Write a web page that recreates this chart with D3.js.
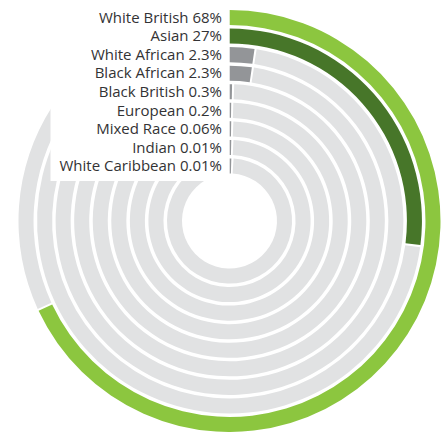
<!DOCTYPE html>
<html><head><meta charset="utf-8">
<script src="https://cdn.jsdelivr.net/npm/d3@7"></script>
<style>html,body{margin:0;padding:0;background:#fff;overflow:hidden}</style>
</head><body>
<svg id="chart" width="446" height="432"></svg>
<script>
const categories = ["White British","Asian","White African","Black African","Black British","European","Mixed Race","Indian","White Caribbean"];
const values = [68, 27, 2.3, 2.3, 0.3, 0.2, 0.06, 0.01, 0.01];
const valueLabels = ["68%","27%","2.3%","2.3%","0.3%","0.2%","0.06%","0.01%","0.01%"];
const colours = ["#8cc63f","#477629","#939598","#939598","#939598","#939598","#939598","#939598","#939598"];

const W = 446, H = 432, cx = 229.5, cy = 221;
const innerR = 47.5, outerR = 211;
const svg = d3.select("#chart");
const g = svg.append("g").attr("transform", `translate(${cx},${cy})`);

const r = d3.scaleBand().domain(categories).range([outerR, innerR]).paddingInner(0.19).paddingOuter(0);
const a = d3.scaleLinear().domain([0, 100]).range([0, 2 * Math.PI]);
const colour = d3.scaleOrdinal().domain(categories).range(colours);

const data = categories.map((c, i) => ({cat: c, value: values[i], label: valueLabels[i]}));
const bw = r.bandwidth();
const minPx = 1.6, gapPx = 2;

data.forEach(d => {
  const rin = r(d.cat), rout = rin + bw, rm = rin + bw / 2;
  d.rin = rin; d.rout = rout; d.rm = rm;
  d.end = Math.max(a(d.value), minPx / rm);
  d.trackStart = d.end + gapPx / rm;
});

const arc = d3.arc();
// background tracks
g.selectAll("path.track").data(data).join("path").attr("class", "track")
  .attr("d", d => arc({innerRadius: d.rin, outerRadius: d.rout, startAngle: d.trackStart, endAngle: 2 * Math.PI}))
  .attr("fill", "#e1e2e3");
// bars
g.selectAll("path.bar").data(data).join("path").attr("class", "bar")
  .attr("d", d => arc({innerRadius: d.rin, outerRadius: d.rout, startAngle: 0, endAngle: d.end}))
  .attr("fill", d => colour(d.cat));

// label panel
const box = g.append("rect").attr("fill", "#fff");
const labels = g.append("g")
  .attr("font-family", "'Open Sans', sans-serif").attr("font-size", "15px").attr("fill", "#333335");
labels.selectAll("text").data(data).join("text")
  .attr("x", -7.5)
  .attr("y", d => -d.rm)
  .attr("dy", "0.35em")
  .attr("text-anchor", "end")
  .text(d => `${d.cat} ${d.label}`);
const bb = labels.node().getBBox();
const last = data[data.length - 1];
box.attr("x", bb.x - 9).attr("y", -cy - 5).attr("width", -(bb.x - 9)).attr("height", cy + 5 - last.rm + 15);
</script>
</body></html>
